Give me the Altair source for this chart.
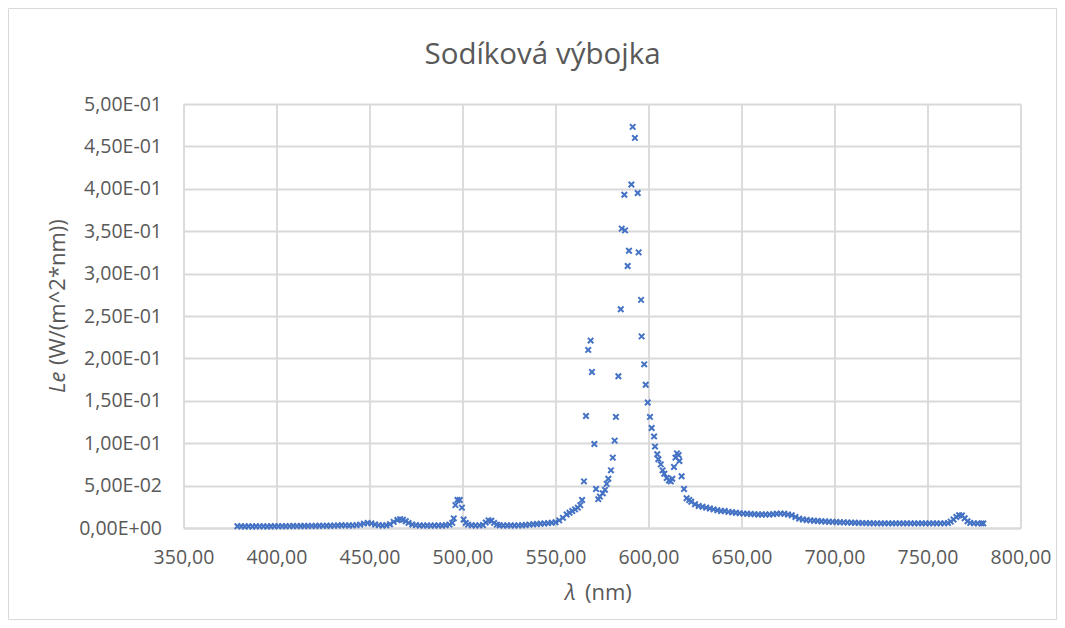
import altair as alt
import pandas as pd

# ---- data (wavelength in nm, Le in W/(m^2*nm)) ----
wl_blue = [379, 381, 383, 385, 387, 389, 391, 393, 395, 397,
           399, 401, 403, 405, 407, 409, 411, 413, 415, 417,
           419, 421, 423, 425, 427, 429, 431, 433, 435, 437,
           439, 441, 443, 445, 447, 449, 451, 453, 455, 457,
           459, 461, 463, 465, 466.5, 468, 469.5, 471,
           473, 475, 477, 479, 481, 483, 485, 487, 489, 491, 493]
le_blue = [0.0020, 0.0020, 0.0018, 0.0020, 0.0018, 0.0020, 0.0019, 0.0020, 0.0018, 0.0020,
           0.0020, 0.0021, 0.0022, 0.0021, 0.0022, 0.0023, 0.0022, 0.0024, 0.0023, 0.0024,
           0.0025, 0.0024, 0.0026, 0.0025, 0.0026, 0.0027, 0.0028, 0.0030, 0.0032, 0.0031,
           0.0030, 0.0031, 0.0034, 0.0040, 0.0052, 0.0060, 0.0055, 0.0042, 0.0034, 0.0030,
           0.0032, 0.0045, 0.0072, 0.0095, 0.0105, 0.0098, 0.0080, 0.0060,
           0.0042, 0.0034, 0.0030, 0.0029, 0.0029, 0.0028, 0.0029, 0.0030, 0.0030, 0.0032, 0.0040]

wl_green = [494.5, 495.3, 496.2, 497.3, 498.5, 499.7, 500.6, 501.8, 503,
            505, 507, 509, 511,
            512.5, 514, 515.5, 517, 518.5,
            520, 522, 524, 526, 528, 530, 532, 534, 536, 538,
            540, 542, 544, 546, 548, 550, 552, 554, 556,
            557.5, 559, 560.5, 562, 563.3]
le_green = [0.0060, 0.0114, 0.0270, 0.0330, 0.0330, 0.0240, 0.0100, 0.0060, 0.0040,
            0.0032, 0.0030, 0.0031, 0.0036,
            0.0065, 0.0090, 0.0085, 0.0060, 0.0040,
            0.0032, 0.0030, 0.0030, 0.0031, 0.0030, 0.0031, 0.0032, 0.0035, 0.0040, 0.0045,
            0.0048, 0.0050, 0.0053, 0.0057, 0.0062, 0.0068, 0.0090, 0.0120, 0.0160,
            0.0180, 0.0200, 0.0220, 0.0240, 0.0270]

wl_peak = [564.3, 565.3, 566.4, 567.6, 568.9, 569.6, 570.9, 571.8, 573.0, 573.9,
           575.4, 576.6, 577.5, 578.4, 579.8, 580.8, 581.8, 582.5, 583.8, 585.1,
           585.6, 587.0, 587.4, 588.8, 589.5, 590.8, 591.5, 592.7, 594.2, 594.7,
           596.0, 596.3, 597.7, 598.5, 599.6, 600.8, 601.7, 603.0, 603.5, 604.7,
           605.3, 606.6, 607.6, 608.5, 609.8, 611.0, 612.0, 612.8, 613.7, 614.5,
           615.3, 616.2, 616.6, 617.8, 619.1, 620.5, 621.9]
le_peak = [0.033, 0.055, 0.132, 0.210, 0.221, 0.184, 0.099, 0.046, 0.034, 0.037,
           0.041, 0.045, 0.052, 0.058, 0.068, 0.083, 0.103, 0.131, 0.179, 0.258,
           0.353, 0.393, 0.351, 0.309, 0.327, 0.405, 0.473, 0.460, 0.395, 0.325,
           0.269, 0.226, 0.193, 0.169, 0.148, 0.131, 0.118, 0.108, 0.096, 0.087,
           0.081, 0.075, 0.068, 0.064, 0.059, 0.056, 0.055, 0.058, 0.072, 0.083,
           0.088, 0.086, 0.079, 0.061, 0.046, 0.035, 0.033]

wl_red = [623, 625, 627, 629, 631, 633, 635, 637, 639, 641,
          643, 645, 647, 649, 651, 653, 655, 657, 659, 661,
          663, 665, 667, 669, 671, 673, 675, 677, 679, 681,
          683, 685, 687, 689, 691, 693, 695, 697, 699, 701,
          703, 705, 707, 709, 711, 713, 715, 717, 719, 721,
          723, 725, 727, 729, 731, 733, 735, 737, 739, 741,
          743, 745, 747, 749, 751, 753, 755, 757, 759, 761,
          762.5, 764, 765.5, 767, 768.5, 770, 771.5, 773,
          775, 777, 779, 780]
le_red = [0.031, 0.028, 0.026, 0.025, 0.024, 0.023, 0.022, 0.021, 0.020, 0.020,
          0.019, 0.0185, 0.018, 0.0175, 0.017, 0.0168, 0.0165, 0.0163, 0.016, 0.016,
          0.016, 0.016, 0.0163, 0.0168, 0.017, 0.0168, 0.016, 0.015, 0.013, 0.011,
          0.010, 0.0094, 0.009, 0.0086, 0.0083, 0.008, 0.0077, 0.0074, 0.0072, 0.0070,
          0.0068, 0.0066, 0.0065, 0.0063, 0.0062, 0.0060, 0.0058, 0.0057, 0.0056, 0.0055,
          0.0055, 0.0054, 0.0055, 0.0055, 0.0054, 0.0055, 0.0055, 0.0054, 0.0055, 0.0055,
          0.0054, 0.0055, 0.0055, 0.0054, 0.0055, 0.0055, 0.0054, 0.0055, 0.0055, 0.0058,
          0.0075, 0.0100, 0.0130, 0.0150, 0.0148, 0.0115, 0.0080, 0.0060,
          0.0055, 0.0055, 0.0054, 0.0054]

x_ticks = [350, 400, 450, 500, 550, 600, 650, 700, 750, 800]
y_ticks = [0, 0.05, 0.1, 0.15, 0.2, 0.25, 0.3, 0.35, 0.4, 0.45, 0.5]

title_text = "Sodíková výbojka"
ytitle_italic = "Le"
ytitle_rest = "(W/(m^2*nm))"
xtitle_italic = "λ"
xtitle_rest = "(nm)"

assert len(wl_blue) == len(le_blue)
assert len(wl_green) == len(le_green)
assert len(wl_peak) == len(le_peak)
assert len(wl_red) == len(le_red)

df = pd.DataFrame({
    "wl": wl_blue + wl_green + wl_peak + wl_red,
    "le": le_blue + le_green + le_peak + le_red,
})

W, H = 837, 424
FONT = "Open Sans"
GREY = "#595959"
GRID = "#d9d9d9"
BLUE = "#4472C4"
XSHAPE = "M-1,-1L1,1M-1,1L1,-1"

y_label_expr = (
    "datum.value < 1e-12 ? '0,00E+00' : "
    "replace(format(datum.value / pow(10, floor(log(datum.value) / LN10 + 1e-9)), '.2f'), '.', ',')"
    " + 'E' + (floor(log(datum.value) / LN10 + 1e-9) < 0 ? '-' : '+')"
    " + format(abs(floor(log(datum.value) / LN10 + 1e-9)), '02d')"
)
x_label_expr = "replace(format(datum.value, '.2f'), '.', ',')"

points = alt.Chart(df).mark_point(
    shape=XSHAPE, filled=False, color=BLUE, strokeWidth=2, size=30, opacity=1
).encode(
    x=alt.X("wl:Q",
            scale=alt.Scale(domain=[350, 800], nice=False, zero=False),
            axis=alt.Axis(values=x_ticks, labelExpr=x_label_expr, title=None,
                          grid=True, gridColor=GRID, gridWidth=1.8,
                          domain=True, domainColor=GRID, domainWidth=1.8,
                          ticks=False, labelPadding=20, labelFlush=False,
                          labelOverlap=False,
                          labelFont=FONT, labelFontSize=19.5, labelColor=GREY)),
    y=alt.Y("le:Q",
            scale=alt.Scale(domain=[0, 0.5], nice=False, zero=True),
            axis=alt.Axis(values=y_ticks, labelExpr=y_label_expr, title=None,
                          grid=True, gridColor=GRID, gridWidth=1.8,
                          domain=False, ticks=False, labelPadding=22,
                          labelFlush=False, labelOverlap=False,
                          labelFont=FONT, labelFontSize=19.5, labelColor=GREY)),
    tooltip=["wl:Q", "le:Q"],
)

one = pd.DataFrame({"t": [0]})

border = alt.Chart(one).mark_rect(filled=False, stroke=GRID, strokeWidth=1).encode(
    x=alt.value(-175), x2=alt.value(873), y=alt.value(-95.5), y2=alt.value(515.5)
)

def label(text, italic, x, y, angle=0):
    kw = dict(align="left", baseline="alphabetic" if angle == 0 else "middle",
              font=FONT, fontSize=22, color=GREY)
    if italic:
        kw["fontStyle"] = "italic"
    if angle:
        kw["angle"] = angle
    return alt.Chart(pd.DataFrame({"t": [text]})).mark_text(**kw).encode(
        text="t:N", x=alt.value(x), y=alt.value(y))

y_it = label(ytitle_italic, True, -125.5, 289, 270)
y_rest = label(ytitle_rest, False, -125.5, 261, 270)
x_it = label(xtitle_italic, True, 381.5, 496)
x_rest = label(xtitle_rest, False, 401.5, 496)

chart = alt.layer(border, points, y_it, y_rest, x_it, x_rest).properties(
    width=W, height=H,
    title=alt.TitleParams(title_text, font=FONT, fontSize=29.5, color=GREY,
                          fontWeight="normal", anchor="middle", dx=-59.5,
                          baseline="alphabetic", offset=0, dy=85),
    padding={"left": 175.5, "top": 96, "right": 36.5, "bottom": 92},
    autosize=alt.AutoSizeParams(type="none"),
).configure_view(stroke="transparent").configure(background="white")

chart.save("out.html", embed_options={"renderer": "svg", "actions": False})
